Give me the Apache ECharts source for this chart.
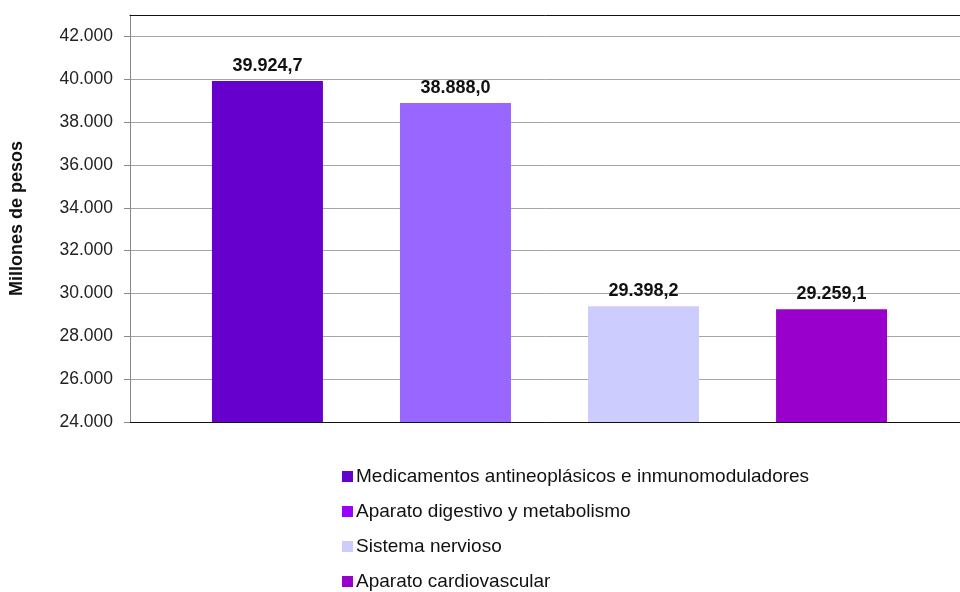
<!DOCTYPE html>
<html>
<head>
<meta charset="utf-8">
<script src="https://cdn.jsdelivr.net/npm/echarts@6/dist/echarts.min.js"></script>
<style>
  html, body { margin: 0; padding: 0; background: #fff; }
  #chart { width: 960px; height: 592px; }
</style>
</head>
<body>
<div id="chart"></div>
<script>
const seriesNames = [
  'Medicamentos antineoplásicos e inmunomoduladores',
  'Aparato digestivo y metabolismo',
  'Sistema nervioso',
  'Aparato cardiovascular'
]
const seriesValues = [39924.7, 38888.0, 29398.2, 29259.1]
const barColors = ['#6600cc', '#9966ff', '#ccccff', '#9900cc']
const legendColors = ['#6600cc', '#9900ff', '#ccccff', '#9900cc']
const yTicks = [24000, 26000, 28000, 30000, 32000, 34000, 36000, 38000, 40000, 42000]

const fmtThousands = (v) => String(Math.round(v)).replace(/\B(?=(\d{3})+(?!\d))/g, '.')
const fmtValue = (v) => {
  const [i, d] = v.toFixed(1).split('.')
  return fmtThousands(Number(i)) + ',' + d
}

const chart = echarts.init(document.getElementById('chart'))
const font = 'Liberation Sans, Arial, Helvetica, sans-serif'

// top edge of the plot box is a bare second x axis
const plainAxis = (position) => ({
  type: 'category',
  position,
  data: [''],
  axisLine: { lineStyle: { color: '#111', width: 1 } },
  axisTick: { show: false },
  axisLabel: { show: false }
})

chart.setOption({
  backgroundColor: '#fff',
  animation: false,
  textStyle: { fontFamily: font },
  grid: {
    left: 130, top: 15, width: 839, height: 407,
    outerBoundsMode: 'none'
  },
  legend: {
    orient: 'vertical',
    left: 337,
    top: 462,
    height: 140,
    icon: 'rect',
    itemWidth: 11,
    itemHeight: 11,
    itemGap: 16,
    textStyle: { fontFamily: font, fontSize: 19, color: '#111', padding: [0, 0, 0, -2] },
    data: seriesNames.map((name, i) => ({ name, itemStyle: { color: legendColors[i] } }))
  },
  xAxis: [plainAxis('bottom'), plainAxis('top')],
  yAxis: {
    type: 'value',
    min: 24000,
    max: 43000,
    interval: 1000,
    name: 'Millones de pesos',
    nameLocation: 'middle',
    nameGap: 104,
    nameTextStyle: { fontFamily: font, fontSize: 18, fontWeight: 'bold', color: '#111' },
    axisLine: { show: true, lineStyle: { color: '#888' } },
    axisTick: { show: true, length: 6, lineStyle: { color: '#888' }, customValues: yTicks },
    axisLabel: {
      fontFamily: font, fontSize: 17.5, color: '#222', margin: 17,
      customValues: yTicks,
      formatter: (v) => fmtThousands(v)
    },
    splitLine: { show: true, lineStyle: { color: '#a6a6a6', width: 1 }, customValues: yTicks }
  },
  series: seriesNames.map((name, i) => ({
    name,
    type: 'bar',
    xAxisIndex: 0,
    barWidth: 111,
    barGap: '69.4%',
    itemStyle: { color: barColors[i] },
    label: {
      show: true,
      position: 'top',
      distance: 6,
      fontFamily: font,
      fontSize: 18,
      fontWeight: 'bold',
      color: '#111',
      formatter: (p) => fmtValue(p.value)
    },
    data: [seriesValues[i]]
  }))
})
</script>
</body>
</html>
